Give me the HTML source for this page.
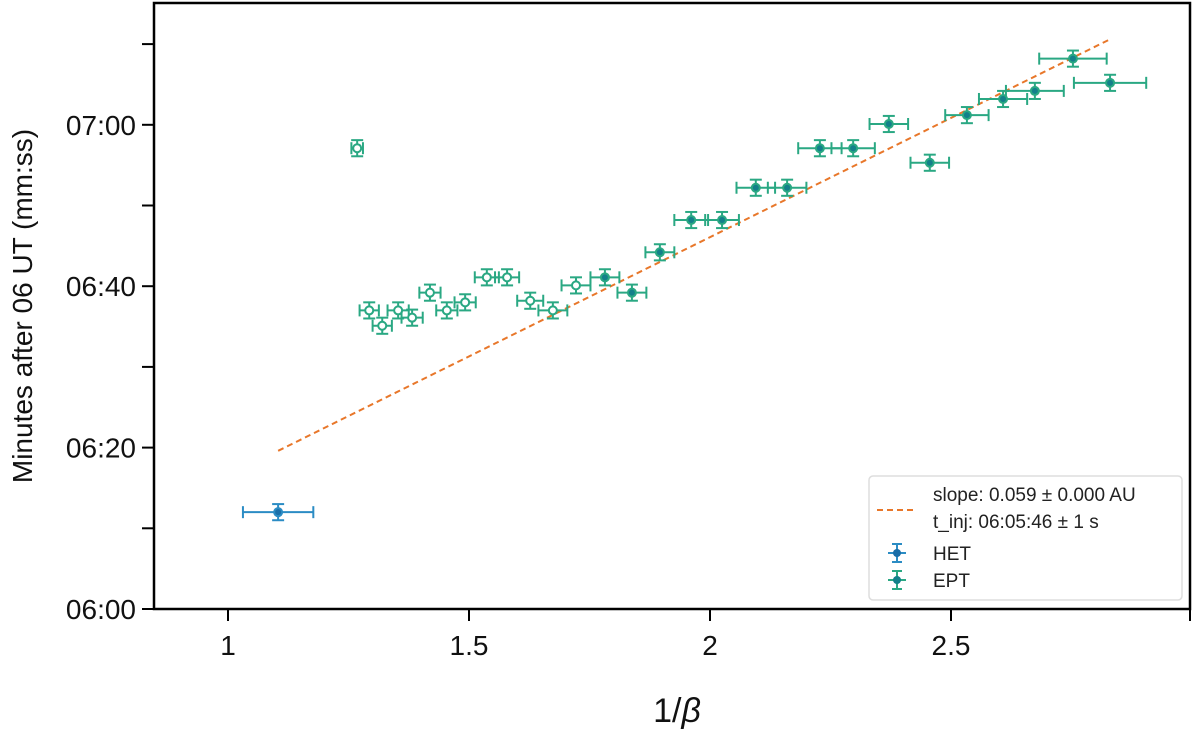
<!DOCTYPE html>
<html><head><meta charset="utf-8"><style>
html,body{margin:0;padding:0;background:#fff;width:1200px;height:731px;overflow:hidden}
svg text{font-family:"Liberation Sans",sans-serif}
</style></head><body>
<svg id="chart" width="1200" height="731" xmlns="http://www.w3.org/2000/svg"></svg>
<script>
const xTicks=[1,1.5,2,2.5];
const xTickLabels=["1","1.5","2","2.5"];
const yTicks=[360,370,380,390,400,410,420,430];
const yTickLabels={360:"06:00",380:"06:20",400:"06:40",420:"07:00"};
const openX=[1.268,1.293,1.320,1.353,1.382,1.419,1.454,1.492,1.537,1.579,1.627,1.674,1.722];
const openY=[417.1,397.0,395.1,397.0,396.1,399.2,397.0,398.0,401.1,401.1,398.2,397.0,400.1];
const openXerr=[0.012,0.02,0.02,0.022,0.022,0.022,0.022,0.022,0.025,0.025,0.027,0.03,0.03];
const eptX=[1.782,1.838,1.896,1.961,2.025,2.095,2.160,2.228,2.297,2.371,2.456,2.533,2.608,2.674,2.753,2.830];
const eptY=[401.1,399.2,404.2,408.2,408.2,412.2,412.2,417.1,417.1,420.1,415.3,421.2,423.2,424.2,428.2,425.2];
const eptXerr=[0.03,0.03,0.03,0.035,0.035,0.04,0.04,0.045,0.045,0.04,0.04,0.045,0.05,0.06,0.07,0.075];
const hetX=[1.104];
const hetY=[372.0];
const hetXerr=[0.073];
const yErr=1.0;
const fitX=[1.104,2.830];
const fitY=[379.6,430.6];

const L=154,R=1190,T=3,B=609;
const sx=v=>228+(v-1)*482;
const sy=v=>609-(v-360)*8.07;
const svg=document.getElementById('chart');
const NS='http://www.w3.org/2000/svg';
function mk(tag,attrs,parent){const e=document.createElementNS(NS,tag);for(const k in attrs)e.setAttribute(k,attrs[k]);(parent||svg).appendChild(e);return e;}

xTicks.forEach((t,i)=>{
  const l=mk('line',{x1:sx(t),x2:sx(t),y1:B,y2:B+12,stroke:'#000','stroke-width':2});
  
  
  const tx=mk('text',{x:sx(t),y:B+46,'text-anchor':'middle','font-size':28,fill:'#111'});
  tx.textContent=xTickLabels[i];
  
  
});
const rt=mk('line',{x1:R,x2:R,y1:B,y2:B+12,stroke:'#000','stroke-width':2});


yTicks.forEach(t=>{
  const l=mk('line',{x1:L-12,x2:L,y1:sy(t),y2:sy(t),stroke:'#000','stroke-width':2});
  
  
  if(yTickLabels[t]){
    const tx=mk('text',{x:L-18,y:sy(t)+10,'text-anchor':'end','font-size':28,fill:'#111'});
    tx.textContent=yTickLabels[t];
    
    
  }
});
const frame=mk('rect',{x:L,y:T,width:R-L,height:B-T,fill:'none',stroke:'#000','stroke-width':2.5});



const yt=mk('text',{x:0,y:0,'font-size':28,fill:'#111','text-anchor':'middle',transform:'translate(32,306) rotate(-90)'});
yt.textContent='Minutes after 06 UT (mm:ss)';


const xt=mk('text',{x:677,y:722,'font-size':34,fill:'#111','text-anchor':'middle','font-family':'Liberation Serif, serif'});
xt.innerHTML='1/<tspan font-style="italic">β</tspan>';



const fit=mk('line',{x1:sx(fitX[0]),y1:sy(fitY[0]),x2:sx(fitX[1]),y2:sy(fitY[1]),stroke:'#e8772a','stroke-width':2,'stroke-dasharray':'6,4'});



function point(x,y,xe,color,fill,name){
  const g=mk('g',{});
  
  
  const cx=sx(x),cy=sy(y),x0=sx(x-xe),x1=sx(x+xe),y0=sy(y+yErr),y1=sy(y-yErr);
  mk('line',{x1:x0,x2:x1,y1:cy,y2:cy,stroke:color,'stroke-width':2},g);
  mk('line',{x1:cx,x2:cx,y1:y0,y2:y1,stroke:color,'stroke-width':2},g);
  mk('line',{x1:x0,x2:x0,y1:cy-6,y2:cy+6,stroke:color,'stroke-width':2},g);
  mk('line',{x1:x1,x2:x1,y1:cy-6,y2:cy+6,stroke:color,'stroke-width':2},g);
  mk('line',{x1:cx-6,x2:cx+6,y1:y0,y2:y0,stroke:color,'stroke-width':2},g);
  mk('line',{x1:cx-6,x2:cx+6,y1:y1,y2:y1,stroke:color,'stroke-width':2},g);
  mk('circle',{cx:cx,cy:cy,r:4,fill:fill,stroke:color,'stroke-width':2},g);
}
openX.forEach((x,i)=>point(x,openY[i],openXerr[i],'#2aa883','#fff','ept-open-point'));
eptX.forEach((x,i)=>point(x,eptY[i],eptXerr[i],'#2aa883','#13808a','ept-point'));
hetX.forEach((x,i)=>point(x,hetY[i],hetXerr[i],'#2b8cc4','#1a6ea8','het-point'));

const lg=mk('g',{});


mk('rect',{x:869,y:476,width:313,height:124,rx:4,fill:'#fff',stroke:'#ddd','stroke-width':1.5},lg);
mk('line',{x1:877,x2:914,y1:510,y2:510,stroke:'#e8772a','stroke-width':2,'stroke-dasharray':'6,4'},lg);
const t1=mk('text',{x:933,y:501,'font-size':19,fill:'#222'},lg);t1.textContent='slope: 0.059 ± 0.000 AU';
const t2=mk('text',{x:933,y:528,'font-size':19,fill:'#222'},lg);t2.textContent='t_inj: 06:05:46 ± 1 s';
function legMark(y,color,fill){
  mk('line',{x1:888,x2:906,y1:y,y2:y,stroke:color,'stroke-width':2},lg);
  mk('line',{x1:897,x2:897,y1:y-9,y2:y+9,stroke:color,'stroke-width':2},lg);
  mk('line',{x1:892,x2:902,y1:y-9,y2:y-9,stroke:color,'stroke-width':2},lg);
  mk('line',{x1:892,x2:902,y1:y+9,y2:y+9,stroke:color,'stroke-width':2},lg);
  mk('circle',{cx:897,cy:y,r:4,fill:fill},lg);
}
legMark(553,'#2b8cc4','#1a6ea8');
legMark(580,'#2aa883','#13808a');
const t3=mk('text',{x:933,y:560,'font-size':19,fill:'#222'},lg);t3.textContent='HET';
const t4=mk('text',{x:933,y:587,'font-size':19,fill:'#222'},lg);t4.textContent='EPT';
</script>
</body></html>
